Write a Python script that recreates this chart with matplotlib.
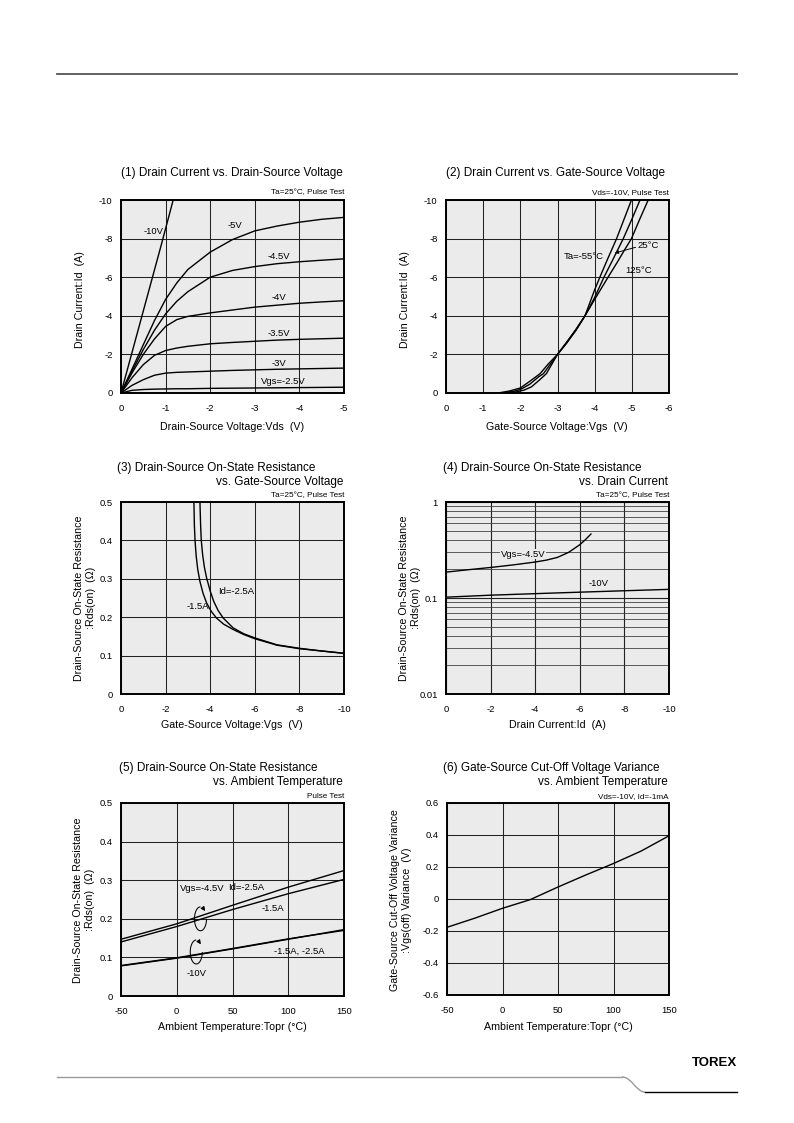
import matplotlib
matplotlib.use('Agg')
import numpy as np
import matplotlib.pyplot as plt
from matplotlib.patches import Arc
from matplotlib.lines import Line2D
from matplotlib.path import Path
from matplotlib.patches import PathPatch
from matplotlib.ticker import FixedLocator, NullFormatter

plt.rcParams['font.family'] = ['Liberation Sans', 'DejaVu Sans']
plt.rcParams['axes.unicode_minus'] = False

# ---------------- data ----------------
# (1) Id vs Vds
p1_vds = [0, -0.25, -0.5, -0.75, -1.0, -1.25, -1.5, -2.0, -2.5, -3.0, -3.5, -4.0, -4.5, -5.0]
p1_id_5 = [0, -1.25, -2.5, -3.75, -4.85, -5.7, -6.4, -7.3, -7.95, -8.4, -8.65, -8.85, -9.0, -9.1]
p1_id_45 = [0, -1.15, -2.25, -3.25, -4.1, -4.75, -5.25, -6.0, -6.35, -6.55, -6.7, -6.8, -6.88, -6.95]
p1_id_4 = [0, -1.05, -2.0, -2.8, -3.45, -3.8, -3.97, -4.15, -4.3, -4.45, -4.55, -4.65, -4.72, -4.78]
p1_id_35 = [0, -0.8, -1.47, -1.95, -2.2, -2.33, -2.42, -2.55, -2.62, -2.68, -2.74, -2.78, -2.81, -2.84]
p1_id_3 = [0, -0.4, -0.69, -0.92, -1.03, -1.07, -1.09, -1.13, -1.17, -1.2, -1.23, -1.25, -1.27, -1.29]
p1_id_25 = [0, -0.14, -0.18, -0.2, -0.21, -0.22, -0.22, -0.24, -0.25, -0.26, -0.27, -0.28, -0.29, -0.30]
p1_vds_10 = [0, -0.3, -0.6, -0.9, -1.17]
p1_id_10 = [0, -2.55, -5.1, -7.65, -10.0]

# (2) Id vs Vgs
p2_vgs_m55 = [-1.6, -1.9, -2.1, -2.3, -2.5, -2.7, -3.0, -3.25, -3.5, -3.74, -4.0, -4.14, -4.35, -4.59, -4.79, -4.99]
p2_id_m55 = [0, -0.06, -0.15, -0.32, -0.65, -1.0, -2.0, -2.6, -3.25, -4.0, -5.35, -6.0, -6.95, -8.0, -9.0, -10.0]
p2_vgs_25 = [-1.5, -1.8, -2.0, -2.25, -2.5, -2.62, -3.0, -3.25, -3.5, -3.74, -4.0, -4.25, -4.5, -4.77, -5.0, -5.22]
p2_id_25 = [0, -0.08, -0.18, -0.45, -0.85, -1.0, -2.0, -2.65, -3.3, -4.0, -4.95, -6.0, -6.95, -8.0, -9.0, -10.0]
p2_vgs_125 = [-1.4, -1.7, -2.0, -2.25, -2.53, -2.75, -3.0, -3.25, -3.5, -3.74, -4.0, -4.36, -4.6, -4.8, -4.99, -5.2, -5.44]
p2_id_125 = [0, -0.1, -0.26, -0.6, -1.0, -1.5, -2.0, -2.6, -3.3, -4.0, -4.85, -6.0, -6.75, -7.4, -8.0, -8.95, -10.0]

# (3) Rds(on) vs Vgs
p3_vgs_25 = [-3.54, -3.57, -3.6, -3.66, -3.74, -3.84, -4.0, -4.16, -4.35, -4.58, -5.03, -5.5, -6.0, -7.0, -8.0, -9.0, -10.0]
p3_r_25 = [0.5, 0.44, 0.40, 0.363, 0.33, 0.302, 0.268, 0.241, 0.218, 0.198, 0.172, 0.157, 0.146, 0.128, 0.119, 0.112, 0.106]
p3_vgs_15 = [-3.27, -3.29, -3.32, -3.37, -3.44, -3.54, -3.68, -3.84, -4.05, -4.28, -4.6, -5.03, -5.5, -6.0, -7.0, -8.0, -9.0, -10.0]
p3_r_15 = [0.5, 0.44, 0.40, 0.36, 0.325, 0.293, 0.262, 0.237, 0.215, 0.198, 0.182, 0.168, 0.155, 0.144, 0.127, 0.118, 0.112, 0.106]

# (4) Rds(on) vs Id
p4_id_45 = [0, -1, -2, -3, -4, -4.5, -5, -5.5, -6, -6.25, -6.5]
p4_r_45 = [0.186, 0.197, 0.208, 0.221, 0.237, 0.248, 0.265, 0.299, 0.359, 0.405, 0.464]
p4_id_10 = [0, -2, -4, -6, -8, -10]
p4_r_10 = [0.102, 0.107, 0.111, 0.115, 0.119, 0.123]

# (5) Rds(on) vs Ta
p5_t = [-50, 0, 50, 100, 150]
p5_r45_25 = [0.147, 0.187, 0.235, 0.282, 0.325]
p5_r45_15 = [0.140, 0.180, 0.224, 0.265, 0.302]
p5_r10_15 = [0.078, 0.098, 0.122, 0.147, 0.172]
p5_r10_25 = [0.079, 0.099, 0.123, 0.148, 0.170]

# (6) Vgs(off) variance vs Ta
p6_t = [-50, -25, 0, 25, 50, 75, 100, 125, 150]
p6_v = [-0.177, -0.12, -0.058, -0.004, 0.075, 0.15, 0.222, 0.30, 0.395]

# ---------------- figure ----------------
W, H = 794, 1123
fig = plt.figure(figsize=(W / 100, H / 100), dpi=100)
BG = '#ebebeb'
GRID = '#222222'
LW = 1.0
TFS = 8.5   # title
LFS = 7.7   # axis label
KFS = 6.8   # tick label
SFS = 5.9   # small note


def fx(x):
    return x / W


def fy(y):
    return 1 - y / H


def ftext(x, y, s, **kw):
    fig.text(fx(x), fy(y), s, **kw)


def make_ax(l, t, r, b):
    ax = fig.add_axes([fx(l), fy(b), (r - l) / W, (b - t) / H])
    ax.set_facecolor(BG)
    for s in ax.spines.values():
        s.set_linewidth(1.4)
        s.set_color('black')
        s.set_zorder(5)
    ax.tick_params(length=0, labelsize=KFS, pad=8)
    ax.tick_params(axis='y', pad=6)
    ax.grid(True, color=GRID, lw=0.75)
    ax.set_axisbelow(True)
    return ax


lab = dict(fontsize=KFS, ha='center', va='center')

# ---- (1)
ax1 = make_ax(121, 200, 344, 393)
ax1.set_xlim(0, -5)
ax1.set_ylim(0, -10)
ax1.set_xticks([0, -1, -2, -3, -4, -5])
ax1.set_yticks([0, -2, -4, -6, -8, -10])
ax1.set_xticklabels(['0', '-1', '-2', '-3', '-4', '-5'])
ax1.set_yticklabels(['0', '-2', '-4', '-6', '-8', '-10'])
for yy in (p1_id_5, p1_id_45, p1_id_4, p1_id_35, p1_id_3, p1_id_25):
    ax1.plot(p1_vds, yy, color='k', lw=LW)
ax1.plot(p1_vds_10, p1_id_10, color='k', lw=LW)
ax1.text(-0.72, -8.35, '-10V', **lab)
ax1.text(-2.55, -8.7, '-5V', **lab)
ax1.text(-3.55, -7.05, '-4.5V', **lab)
ax1.text(-3.55, -4.95, '-4V', **lab)
ax1.text(-3.55, -3.1, '-3.5V', **lab)
ax1.text(-3.55, -1.55, '-3V', **lab)
ax1.text(-3.65, -0.62, 'Vgs=-2.5V', **lab)
ftext(232, 173, '(1) Drain Current vs. Drain-Source Voltage', fontsize=TFS, ha='center', va='center')
ftext(344, 193, 'Ta=25°C, Pulse Test', fontsize=SFS, ha='right', va='center')
ftext(232, 427, 'Drain-Source Voltage:Vds  (V)', fontsize=LFS, ha='center', va='center')
ftext(80, 300, 'Drain Current:Id  (A)', fontsize=LFS, ha='center', va='center', rotation=90)

# ---- (2)
ax2 = make_ax(446, 200, 669, 393)
ax2.set_xlim(0, -6)
ax2.set_ylim(0, -10)
ax2.set_xticks([0, -1, -2, -3, -4, -5, -6])
ax2.set_xticklabels(['0', '-1', '-2', '-3', '-4', '-5', '-6'])
ax2.set_yticks([0, -2, -4, -6, -8, -10])
ax2.set_yticklabels(['0', '-2', '-4', '-6', '-8', '-10'])
ax2.plot(p2_vgs_m55, p2_id_m55, color='k', lw=LW)
ax2.plot(p2_vgs_25, p2_id_25, color='k', lw=LW)
ax2.plot(p2_vgs_125, p2_id_125, color='k', lw=LW)
ax2.text(-3.7, -7.05, 'Ta=-55°C', **lab)
ax2.text(-5.45, -7.65, '25°C', **lab)
ax2.text(-5.17, -6.37, '125°C', **lab)
ax2.annotate('', xy=(-4.54, -7.25), xytext=(-5.1, -7.55),
             arrowprops=dict(arrowstyle='-|>', lw=0.7, color='k', mutation_scale=5, shrinkA=0, shrinkB=0))
ftext(556, 173, '(2) Drain Current vs. Gate-Source Voltage', fontsize=TFS, ha='center', va='center')
ftext(669, 193, 'Vds=-10V, Pulse Test', fontsize=SFS, ha='right', va='center')
ftext(557, 427, 'Gate-Source Voltage:Vgs  (V)', fontsize=LFS, ha='center', va='center')
ftext(405, 300, 'Drain Current:Id  (A)', fontsize=LFS, ha='center', va='center', rotation=90)

# ---- (3)
ax3 = make_ax(121, 502, 344, 694)
ax3.set_xlim(0, -10)
ax3.set_ylim(0, 0.5)
ax3.set_xticks([0, -2, -4, -6, -8, -10])
ax3.set_xticklabels(['0', '-2', '-4', '-6', '-8', '-10'])
ax3.set_yticks([0, 0.1, 0.2, 0.3, 0.4, 0.5])
ax3.set_yticklabels(['0', '0.1', '0.2', '0.3', '0.4', '0.5'])
ax3.plot(p3_vgs_25, p3_r_25, color='k', lw=LW)
ax3.plot(p3_vgs_15, p3_r_15, color='k', lw=LW)
ax3.text(-5.15, 0.267, 'Id=-2.5A', **lab)
ax3.text(-3.45, 0.228, '-1.5A', **lab)
ftext(117, 468, '(3) Drain-Source On-State Resistance', fontsize=TFS, ha='left', va='center')
ftext(343, 482, 'vs. Gate-Source Voltage', fontsize=TFS, ha='right', va='center')
ftext(344, 496, 'Ta=25°C, Pulse Test', fontsize=SFS, ha='right', va='center')
ftext(232, 725, 'Gate-Source Voltage:Vgs  (V)', fontsize=LFS, ha='center', va='center')
ftext(79, 598, 'Drain-Source On-State Resistance', fontsize=LFS, ha='center', va='center', rotation=90)
ftext(91, 598, ':Rds(on)  (Ω)', fontsize=LFS, ha='center', va='center', rotation=90)

# ---- (4)
ax4 = make_ax(446, 502, 669, 694)
ax4.set_yscale('log')
ax4.set_xlim(0, -10)
ax4.set_ylim(0.01, 1)
ax4.set_xticks([0, -2, -4, -6, -8, -10])
ax4.set_xticklabels(['0', '-2', '-4', '-6', '-8', '-10'])
ax4.yaxis.set_major_locator(FixedLocator([0.01, 0.1, 1]))
ax4.set_yticklabels(['0.01', '0.1', '1'])
ax4.yaxis.set_minor_locator(FixedLocator([m * d for d in (0.01, 0.1) for m in range(2, 10)]))
ax4.yaxis.set_minor_formatter(NullFormatter())
ax4.tick_params(which='minor', length=0)
ax4.grid(True, which='major', color=GRID, lw=0.8)
ax4.grid(True, which='minor', axis='y', color='#333333', lw=0.55)
ax4.plot(p4_id_45, p4_r_45, color='k', lw=LW)
ax4.plot(p4_id_10, p4_r_10, color='k', lw=LW)
ax4.text(-3.45, 0.287, 'Vgs=-4.5V', fontsize=KFS, ha='center', va='center',
         bbox=dict(facecolor=BG, edgecolor='none', pad=0.6))
ax4.text(-6.85, 0.14, '-10V', **lab)
ftext(443, 468, '(4) Drain-Source On-State Resistance', fontsize=TFS, ha='left', va='center')
ftext(668, 482, 'vs. Drain Current', fontsize=TFS, ha='right', va='center')
ftext(669, 496, 'Ta=25°C, Pulse Test', fontsize=SFS, ha='right', va='center')
ftext(557, 725, 'Drain Current:Id  (A)', fontsize=LFS, ha='center', va='center')
ftext(404, 598, 'Drain-Source On-State Resistance', fontsize=LFS, ha='center', va='center', rotation=90)
ftext(416, 598, ':Rds(on)  (Ω)', fontsize=LFS, ha='center', va='center', rotation=90)

# ---- (5)
ax5 = make_ax(121, 803, 344, 996)
ax5.set_xlim(-50, 150)
ax5.set_ylim(0, 0.5)
ax5.set_xticks([-50, 0, 50, 100, 150])
ax5.set_xticklabels(['-50', '0', '50', '100', '150'])
ax5.set_yticks([0, 0.1, 0.2, 0.3, 0.4, 0.5])
ax5.set_yticklabels(['0', '0.1', '0.2', '0.3', '0.4', '0.5'])
ax5.plot(p5_t, p5_r45_25, color='k', lw=LW)
ax5.plot(p5_t, p5_r45_15, color='k', lw=LW)
ax5.plot(p5_t, p5_r10_15, color='k', lw=LW)
ax5.plot(p5_t, p5_r10_25, color='k', lw=LW)
ax5.text(62, 0.282, 'Id=-2.5A', **lab)
ax5.text(86, 0.226, '-1.5A', **lab)
ax5.text(23, 0.278, 'Vgs=-4.5V', **lab)
ax5.text(110, 0.117, '-1.5A, -2.5A', **lab)
ax5.text(18, 0.058, '-10V', **lab)
for cx, cy in ((21.3, 0.200), (17.5, 0.114)):
    rx, ry = 5.4, 0.031
    ax5.add_patch(Arc((cx, cy), 2 * rx, 2 * ry, theta1=70, theta2=360, lw=0.75, color='k'))
    a0, a1 = np.deg2rad(68), np.deg2rad(40)
    ax5.annotate('', xy=(cx + rx * np.cos(a1), cy + ry * np.sin(a1)),
                 xytext=(cx + rx * np.cos(a0), cy + ry * np.sin(a0)),
                 arrowprops=dict(arrowstyle='-|>', lw=0.75, color='k', mutation_scale=6,
                                 shrinkA=0, shrinkB=0))
ftext(119, 768, '(5) Drain-Source On-State Resistance', fontsize=TFS, ha='left', va='center')
ftext(343, 782, 'vs. Ambient Temperature', fontsize=TFS, ha='right', va='center')
ftext(344, 797, 'Pulse Test', fontsize=SFS, ha='right', va='center')
ftext(232, 1027, 'Ambient Temperature:Topr (°C)', fontsize=LFS, ha='center', va='center')
ftext(78, 900, 'Drain-Source On-State Resistance', fontsize=LFS, ha='center', va='center', rotation=90)
ftext(90, 900, ':Rds(on)  (Ω)', fontsize=LFS, ha='center', va='center', rotation=90)

# ---- (6)
ax6 = make_ax(447, 803, 669, 995)
ax6.set_xlim(-50, 150)
ax6.set_ylim(-0.6, 0.6)
ax6.set_xticks([-50, 0, 50, 100, 150])
ax6.set_xticklabels(['-50', '0', '50', '100', '150'])
ax6.set_yticks([-0.6, -0.4, -0.2, 0, 0.2, 0.4, 0.6])
ax6.set_yticklabels(['-0.6', '-0.4', '-0.2', '0', '0.2', '0.4', '0.6'])
ax6.plot(p6_t, p6_v, color='k', lw=LW)
ftext(443, 768, '(6) Gate-Source Cut-Off Voltage Variance', fontsize=TFS, ha='left', va='center')
ftext(668, 782, 'vs. Ambient Temperature', fontsize=TFS, ha='right', va='center')
ftext(669, 797, 'Vds=-10V, Id=-1mA', fontsize=SFS, ha='right', va='center')
ftext(558, 1027, 'Ambient Temperature:Topr (°C)', fontsize=LFS, ha='center', va='center')
ftext(395, 900, 'Gate-Source Cut-Off Voltage Variance', fontsize=LFS, ha='center', va='center', rotation=90)
ftext(407, 900, ':Vgs(off) Variance  (V)', fontsize=LFS, ha='center', va='center', rotation=90)

# ---- page decorations
fig.add_artist(Line2D([fx(57), fx(737)], [fy(74), fy(74)], color='#555555', lw=1.3))
fig.add_artist(Line2D([fx(57), fx(622)], [fy(1077), fy(1077)], color='#999999', lw=1.0))
verts = [(fx(622), fy(1077)), (fx(632), fy(1077)), (fx(636), fy(1092)), (fx(645), fy(1092))]
fig.add_artist(PathPatch(Path(verts, [Path.MOVETO, Path.CURVE4, Path.CURVE4, Path.CURVE4]),
                         transform=fig.transFigure, fill=False, edgecolor='#999999', lw=1.0))
fig.add_artist(Line2D([fx(645), fx(737)], [fy(1092), fy(1092)], color='black', lw=1.0))
ftext(737, 1063, 'TOREX', fontsize=9.5, ha='right', va='center', fontweight='bold')

fig.savefig('out.png', dpi=100)
